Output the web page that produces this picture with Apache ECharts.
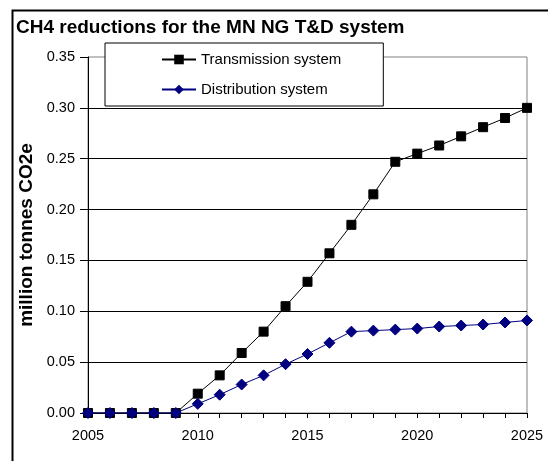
<!DOCTYPE html>
<html>
<head>
<meta charset="utf-8">
<script src="https://cdn.jsdelivr.net/npm/echarts@6/dist/echarts.min.js"></script>
<style>
  html, body { margin: 0; padding: 0; background: #fff; }
  #chart { width: 548px; height: 461px; }
</style>
</head>
<body>
<div id="chart"></div>
<script>
// Years on the horizontal axis
const years = ['2005','2006','2007','2008','2009','2010','2011','2012','2013','2014','2015',
               '2016','2017','2018','2019','2020','2021','2022','2023','2024','2025'];

// CH4 reductions, million tonnes CO2e
const transmission = [0, 0, 0, 0, 0, 0.019, 0.037, 0.059, 0.080, 0.105, 0.129,
                      0.157, 0.185, 0.215, 0.247, 0.255, 0.263, 0.272, 0.281, 0.290, 0.300];
const distribution = [0, 0, 0, 0, 0, 0.009, 0.018, 0.028, 0.037, 0.048, 0.058,
                      0.069, 0.080, 0.081, 0.082, 0.083, 0.085, 0.086, 0.087, 0.089, 0.091];

const seriesNames = ['Transmission system', 'Distribution system'];
const titleText = 'CH4 reductions for the MN NG T&D system';
const yTitle = 'million tonnes CO2e';

const FONT = 'Liberation Sans, Arial, Helvetica, sans-serif';

const chart = echarts.init(document.getElementById('chart'), null, { renderer: 'canvas' });

chart.setOption({
  animation: false,
  backgroundColor: '#ffffff',
  textStyle: { fontFamily: FONT, color: '#000' },
  title: {
    text: titleText,
    left: 12,
    top: 18,
    padding: [0, 4],
    textStyle: { fontFamily: FONT, fontSize: 19, fontWeight: 'bold', color: '#000' }
  },
  graphic: [{
    // outer chart frame
    type: 'rect',
    left: 10, top: 8,
    shape: { width: 600, height: 500 },
    style: { fill: 'none', stroke: '#000', lineWidth: 2 },
    silent: true,
    z: 100
  }],
  legend: {
    data: seriesNames,
    orient: 'vertical',
    left: 105,
    top: 43,
    itemWidth: 34,
    itemHeight: 12,
    itemGap: 15,
    padding: [9, 42, 9, 56],
    backgroundColor: '#ffffff',
    borderColor: '#000',
    borderWidth: 1,
    textStyle: { fontFamily: FONT, fontSize: 15, color: '#000' },
    z: 10
  },
  grid: {
    left: 88, right: 21, top: 57, bottom: 48,
    show: true,
    borderColor: '#808080',
    borderWidth: 1,
    backgroundColor: '#ffffff'
  },
  xAxis: {
    type: 'category',
    data: years,
    boundaryGap: false,
    axisLine: { lineStyle: { color: '#000', width: 1 } },
    axisTick: { show: true, interval: 0, length: 5, lineStyle: { color: '#000' } },
    axisLabel: { interval: 4, margin: 15, fontFamily: FONT, fontSize: 14.5, color: '#000' },
    splitLine: { show: false }
  },
  yAxis: {
    type: 'value',
    min: 0,
    max: 0.35,
    interval: 0.05,
    name: yTitle,
    nameLocation: 'middle',
    nameRotate: 90,
    nameGap: 51,
    nameTextStyle: { fontFamily: FONT, fontSize: 19, fontWeight: 'bold', color: '#000' },
    axisLine: { show: true, lineStyle: { color: '#000', width: 1 } },
    axisTick: { show: true, length: 8, lineStyle: { color: '#000' } },
    axisLabel: {
      margin: 13,
      fontFamily: FONT, fontSize: 14.5, color: '#000',
      formatter: v => v.toFixed(2)
    },
    splitLine: { show: true, showMaxLine: false, lineStyle: { color: '#000', width: 1 } }
  },
  series: [
    {
      name: seriesNames[0],
      type: 'line',
      data: transmission,
      symbol: 'rect',
      symbolSize: 9,
      lineStyle: { color: '#000', width: 1 },
      itemStyle: { color: '#000', borderColor: '#000' },
      z: 3
    },
    {
      name: seriesNames[1],
      type: 'line',
      data: distribution,
      symbol: 'diamond',
      symbolSize: 11,
      lineStyle: { color: '#000080', width: 1 },
      itemStyle: { color: '#000080', borderColor: '#000080' },
      z: 4
    }
  ]
});
</script>
</body>
</html>
